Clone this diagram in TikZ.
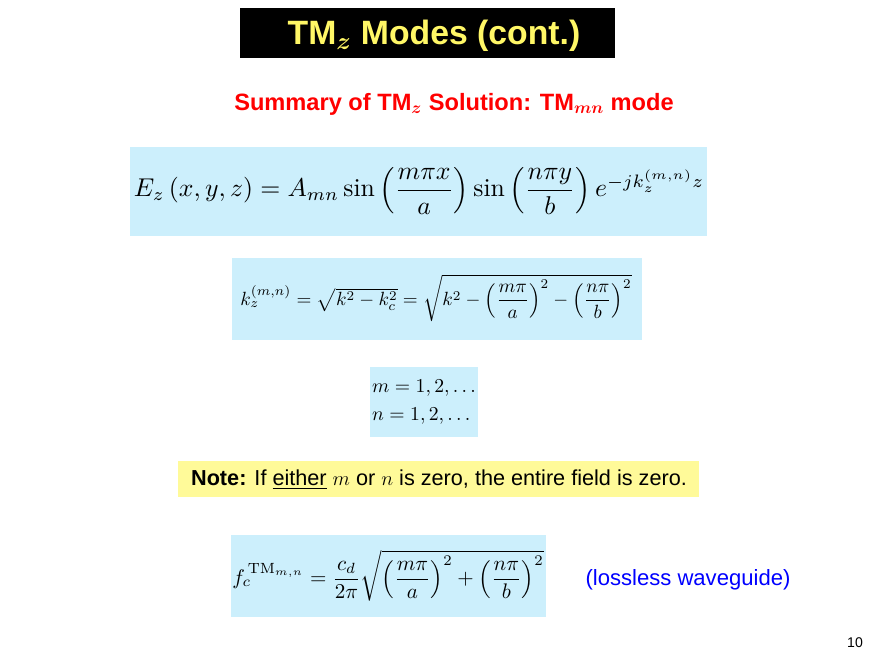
\documentclass[tikz,border=0pt]{standalone}
\usepackage{amsmath}
\usepackage{fontspec}
\newfontfamily\arial{Liberation Sans}
\begin{document}
\begin{tikzpicture}[x=0.025cm,y=-0.025cm,
  cyanbox/.style={fill=cyan!20,draw=none},
  lbl/.style={inner sep=0pt}]
\useasboundingbox[fill=white] (0,0) rectangle (880,660);
\fill[black] (240,8) rectangle (615,58);
\node[lbl,text=yellow!60!white,font=\arial\bfseries\fontsize{24}{28}\selectfont] (title) at (434,36) {TM$_{\boldsymbol{z}}$ Modes (cont.)};
\node[lbl,text=red,font=\arial\bfseries\fontsize{16.8}{20}\selectfont] (sub) at (454,104) {Summary of TM$_{\boldsymbol{z}}$ Solution: TM$_{\boldsymbol{mn}}$ mode};
\fill[cyanbox] (130,147) rectangle (707,236);
\node[lbl,scale=1.83] (eq1) at (419,191) {$E_z\left(x,y,z\right)=A_{mn}\sin\left(\dfrac{m\pi x}{a}\right)\sin\left(\dfrac{n\pi y}{b}\right)e^{-jk_z^{(m,n)}z}$};
\fill[cyanbox] (232,258) rectangle (642,340);
\node[lbl,scale=1.36] (eq2) at (436,298) {$k_z^{(m,n)}=\sqrt{k^2-k_c^2}=\sqrt{k^2-\left(\dfrac{m\pi}{a}\right)^{2}-\left(\dfrac{n\pi}{b}\right)^{2}}$};
\fill[cyanbox] (370,367) rectangle (478,437);
\node[lbl,scale=1.4,align=left] (eq3) at (424,402) {$m=1,2,\ldots$\\[2pt]$n=1,2,\ldots$};
\fill[yellow!40] (178,461) rectangle (699,497);
\node[lbl,font=\arial\fontsize{15.4}{18}\selectfont] (note) at (439,480) {\textbf{Note:} If \underline{either} $m$ or $n$ is zero, the entire field is zero.};
\fill[cyanbox] (231,535) rectangle (546,617);
\node[lbl,scale=1.5] (eq4) at (388,576) {$f_c^{\,\mathrm{TM}_{m,n}}=\dfrac{c_d}{2\pi}\sqrt{\left(\dfrac{m\pi}{a}\right)^{2}+\left(\dfrac{n\pi}{b}\right)^{2}}$};
\node[lbl,text=blue,font=\arial\fontsize{15.7}{18}\selectfont] (loss) at (688,580) {(lossless waveguide)};
\node[lbl,font=\arial\fontsize{10}{12}\selectfont] (pg) at (855,643) {10};
\end{tikzpicture}
\end{document}
